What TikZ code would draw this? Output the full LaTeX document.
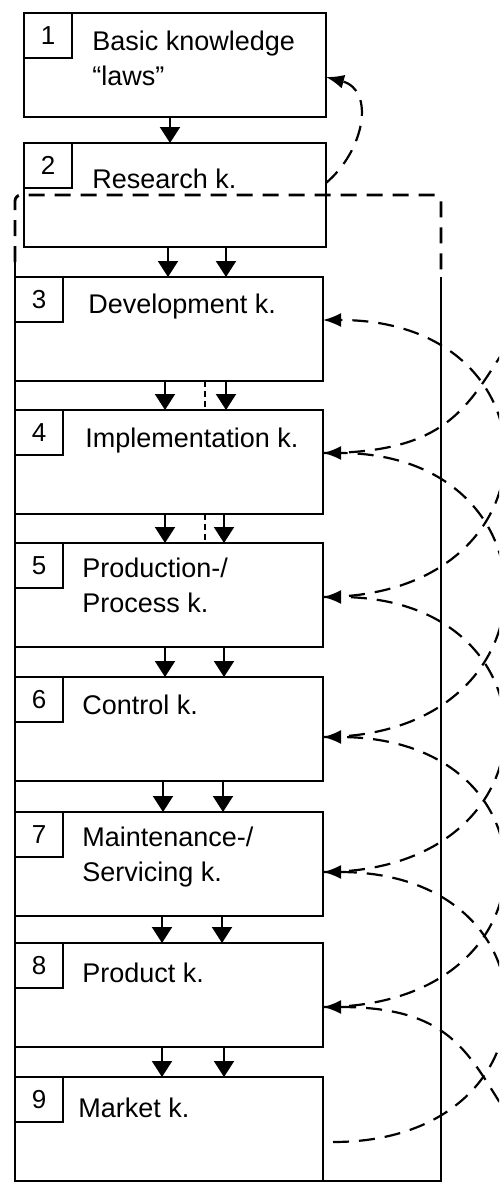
\documentclass[tikz,border=0pt]{standalone}
\usepackage{fontspec}
\setmainfont{Liberation Sans}
\usepackage{tikz}
\usetikzlibrary{arrows.meta}
\tikzstyle{kbox}=[draw,rectangle,line width=1.4pt,anchor=north west,outer sep=0pt,inner sep=0pt,minimum width=154pt,minimum height=52pt]
\tikzstyle{kboxtop}=[kbox,minimum width=151pt]
\tikzstyle{numbox}=[draw,rectangle,line width=1.2pt,anchor=north west,outer sep=0pt,inner sep=0pt,minimum width=24pt,minimum height=22.5pt,font=\fontsize{13}{15}\selectfont]
\tikzstyle{ktext}=[anchor=west,align=left,inner sep=0pt,font=\fontsize{13.5}{17.5}\selectfont]
\tikzstyle{flow} = [draw, line width=1pt, -{Triangle[width=10pt,length=8pt]}]
\tikzstyle{back} = [draw, line width=1.1pt, dash pattern=on 8pt off 5pt]
\tikzstyle{backarr} = [back, -{Latex[length=9pt,width=7pt]}]
\tikzstyle{frame} = [draw, line width=1.4pt]

\begin{document}
\begin{tikzpicture}[x=0.5pt,y=-0.5pt]
  \useasboundingbox (0,0) rectangle (499,1184);
  \clip (0,0) rectangle (499,1184);
  % frame round 3..9
  \draw[frame,dash pattern=on 8pt off 5pt,rounded corners=3pt] (15,262) -- (15,195) -- (441,195) -- (441,277);
  \draw[frame] (15,262) -- (15,1181) -- (441,1181) -- (441,277);
  % boxes
  \node[kboxtop] (kb1) at (24,13)  {};
  \node[kboxtop] (kb2) at (24,143) {};
  \node[kbox] (kb3) at (15,277)  {};
  \node[kbox] (kb4) at (15,410)  {};
  \node[kbox] (kb5) at (15,543)  {};
  \node[kbox] (kb6) at (15,677)  {};
  \node[kbox] (kb7) at (15,812)  {};
  \node[kbox] (kb8) at (15,943)  {};
  \node[kbox] (kb9) at (15,1077) {};
  % numbers
  \node[numbox] (n1) at (kb1.north west) {1};
  \node[numbox] (n2) at (kb2.north west) {2};
  \node[numbox] (n3) at (kb3.north west) {3};
  \node[numbox] (n4) at (kb4.north west) {4};
  \node[numbox] (n5) at (kb5.north west) {5};
  \node[numbox] (n6) at (kb6.north west) {6};
  \node[numbox] (n7) at (kb7.north west) {7};
  \node[numbox] (n8) at (kb8.north west) {8};
  \node[numbox] (n9) at (kb9.north west) {9};
  % labels
  \node[ktext] (t1) at (92,58)   {Basic knowledge\\ “laws”};
  \node[ktext] (t2) at (92,179)  {Research k.};
  \node[ktext] (t3) at (88,307)  {Development k.};
  \node[ktext] (t4) at (85,441)  {Implementation k.};
  \node[ktext] (t5) at (82,585)  {Production-/\\Process k.};
  \node[ktext] (t6) at (82,705)  {Control k.};
  \node[ktext] (t7) at (82,857)  {Maintenance-/\\Servicing k.};
  \node[ktext] (t8) at (82,973)  {Product k.};
  \node[ktext] (t9) at (78,1108) {Market k.};
  % flow downwards
  \draw[flow] (kb1.south -| 170,0) -- (kb2.north -| 170,0);
  \draw[flow] (kb2.south -| 168,0) -- (kb3.north -| 168,0);
  \draw[flow] (kb2.south -| 226,0) -- (kb3.north -| 226,0);
  \draw[flow] (kb3.south -| 165,0) -- (kb4.north -| 165,0);
  \draw[flow] (kb3.south -| 226,0) -- (kb4.north -| 226,0);
  \draw[flow] (kb4.south -| 165,0) -- (kb5.north -| 165,0);
  \draw[flow] (kb4.south -| 224,0) -- (kb5.north -| 224,0);
  \draw[flow] (kb5.south -| 165,0) -- (kb6.north -| 165,0);
  \draw[flow] (kb5.south -| 224,0) -- (kb6.north -| 224,0);
  \draw[flow] (kb6.south -| 163,0) -- (kb7.north -| 163,0);
  \draw[flow] (kb6.south -| 223,0) -- (kb7.north -| 223,0);
  \draw[flow] (kb7.south -| 162,0) -- (kb8.north -| 162,0);
  \draw[flow] (kb7.south -| 222,0) -- (kb8.north -| 222,0);
  \draw[flow] (kb8.south -| 162,0) -- (kb9.north -| 162,0);
  \draw[flow] (kb8.south -| 224,0) -- (kb9.north -| 224,0);
  \draw[line width=0.8pt,dash pattern=on 3pt off 2pt] (kb3.south -| 205,0) -- (kb4.north -| 205,0);
  \draw[line width=0.8pt,dash pattern=on 3pt off 2pt] (kb4.south -| 205,0) -- (kb5.north -| 205,0);
  % feedback, dashed
  \coordinate (c4) at (545,295);
  \coordinate (c8) at (545,1165);
  \coordinate (s9) at (333,1142);
  \draw[backarr] (kb2.east |- 0,183) .. controls (365,150) and (375,90) .. (kb1.east |- 0,77);
  \draw[backarr] (kb5.east |- 0,597) .. controls (563,597) and (563,320) .. (kb3.east |- 0,320);
  \draw[backarr] (kb6.east |- 0,737) .. controls (563,737) and (563,453) .. (kb4.east |- 0,453);
  \draw[backarr] (kb7.east |- 0,872) .. controls (563,872) and (563,597) .. (kb5.east |- 0,597);
  \draw[backarr] (kb8.east |- 0,1007) .. controls (563,1007) and (563,737) .. (kb6.east |- 0,737);
  \draw[backarr] (s9) .. controls (563,1142) and (563,872) .. (kb7.east |- 0,872);
  \draw[backarr] (c8) .. controls (470,1080) and (480,1007) .. (kb8.east |- 0,1007);
  \draw[back] (kb4.east |- 0,453) .. controls (480,453) and (470,380) .. (c4);
\end{tikzpicture}
\end{document}
